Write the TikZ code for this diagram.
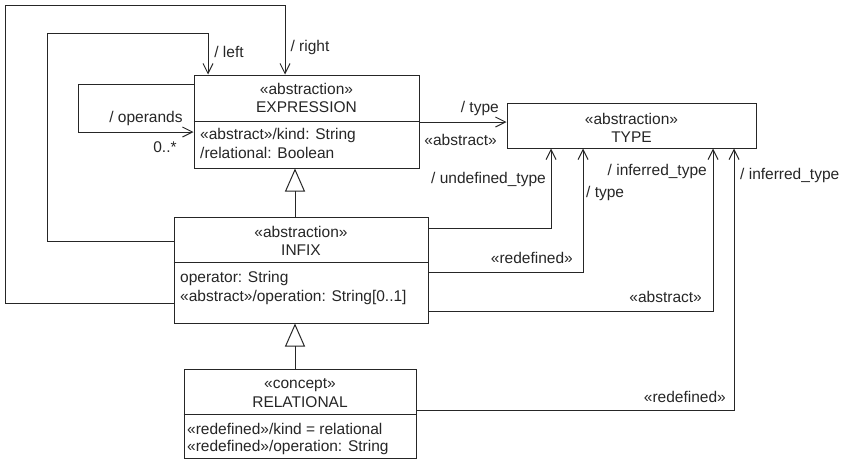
\documentclass[tikz,border=0pt]{standalone}
\usepackage{fontspec}
\setmainfont{Liberation Sans}
\usetikzlibrary{arrows.meta}
\begin{document}
\begin{tikzpicture}[x=1pt,y=-1pt,
  every node/.style={font=\fontsize{15.5}{18}\selectfont, inner sep=0pt, text=black!85},
  line/.style={draw=black!85, line width=1pt},
  classbox/.style={line, rectangle, fill=white},
  assoc/.style={line, -{Straight Barb[length=10pt,width=10pt]}},
  gen/.style={line, -{Triangle[open,length=23pt,width=20pt]}},
  attr/.style={anchor=west}
]
\useasboundingbox (0,0) rectangle (851,461);

% class boxes
\node[classbox, minimum width=225pt, minimum height=93pt] (expr) at (306.5,121.5) {};
\node[classbox, minimum width=249pt, minimum height=45pt] (type) at (631.5,125.5) {};
\node[classbox, minimum width=254pt, minimum height=106pt] (infix) at (301,270) {};
\node[classbox, minimum width=232pt, minimum height=89pt] (rel) at (300,413.5) {};

% compartment dividers
\draw[line] (expr.west |- 0,121) -- (expr.east |- 0,121);
\draw[line] (infix.west |- 0,262) -- (infix.east |- 0,262);
\draw[line] (rel.west |- 0,414) -- (rel.east |- 0,414);

% EXPRESSION
\node (exprst) at (306.5,89) {«abstraction»};
\node (exprnm) at (306.5,107) {EXPRESSION};
\node[attr] (expra1) at (200,135) {«abstract»/kind: String};
\node[attr] (expra2) at (200,153) {/relational: Boolean};

% TYPE
\node (typest) at (631.5,119) {«abstraction»};
\node (typenm) at (631.5,137) {TYPE};

% INFIX
\node (infixst) at (301,232) {«abstraction»};
\node (infixnm) at (301,250) {INFIX};
\node[attr] (infixa1) at (180,278) {operator: String};
\node[attr] (infixa2) at (180,297) {«abstract»/operation: String[0..1]};

% RELATIONAL
\node (relst) at (300,385) {«concept»};
\node (relnm) at (300,402) {RELATIONAL};
\node[attr] (rela1) at (187,429) {«redefined»/kind = relational};
\node[attr] (rela2) at (187,447) {«redefined»/operation: String};

% generalizations
\draw[gen] (infix.north -| 295,0) -- (expr.south -| 295,0);
\draw[gen] (rel.north -| 295,0) -- (infix.south -| 295,0);

% operands self-association
\draw[assoc] (expr.west |- 0,84) -| (78,132) -- (expr.west |- 0,132);
\node (lop) at (146,118) {/ operands};
\node (lmult) at (165,147) {0..*};

% left / right
\draw[assoc] (infix.west |- 0,241) -| (47,33) -| (expr.north -| 208,0);
\node (lleft) at (229,52) {/ left};
\draw[assoc] (infix.west |- 0,303) -| (5,5) -| (expr.north -| 285,0);
\node (lright) at (310,47) {/ right};

% type of EXPRESSION
\draw[assoc] (expr.east |- 0,122) -- (type.west |- 0,122);
\node[anchor=east] (ltype1) at (499,108) {/ type};
\node[anchor=east] (labs1) at (497,140) {«abstract»};

% INFIX to TYPE
\draw[assoc] (infix.east |- 0,228) -| (type.south -| 551,0);
\node[anchor=east] (lundef) at (546,179) {/ undefined\_type};
\draw[assoc] (infix.east |- 0,272) -| (type.south -| 583,0);
\node[anchor=west] (ltype2) at (586,193) {/ type};
\node[anchor=east] (lred1) at (573,258) {«redefined»};
\draw[assoc] (infix.east |- 0,311) -| (type.south -| 713,0);
\node[anchor=east] (linf1) at (707,171) {/ inferred\_type};
\node[anchor=east] (labs2) at (702,297) {«abstract»};

% RELATIONAL to TYPE
\draw[assoc] (rel.east |- 0,410) -| (type.south -| 734,0);
\node[anchor=west] (linf2) at (740,175) {/ inferred\_type};
\node[anchor=east] (lred2) at (726,397) {«redefined»};
\end{tikzpicture}
\end{document}
